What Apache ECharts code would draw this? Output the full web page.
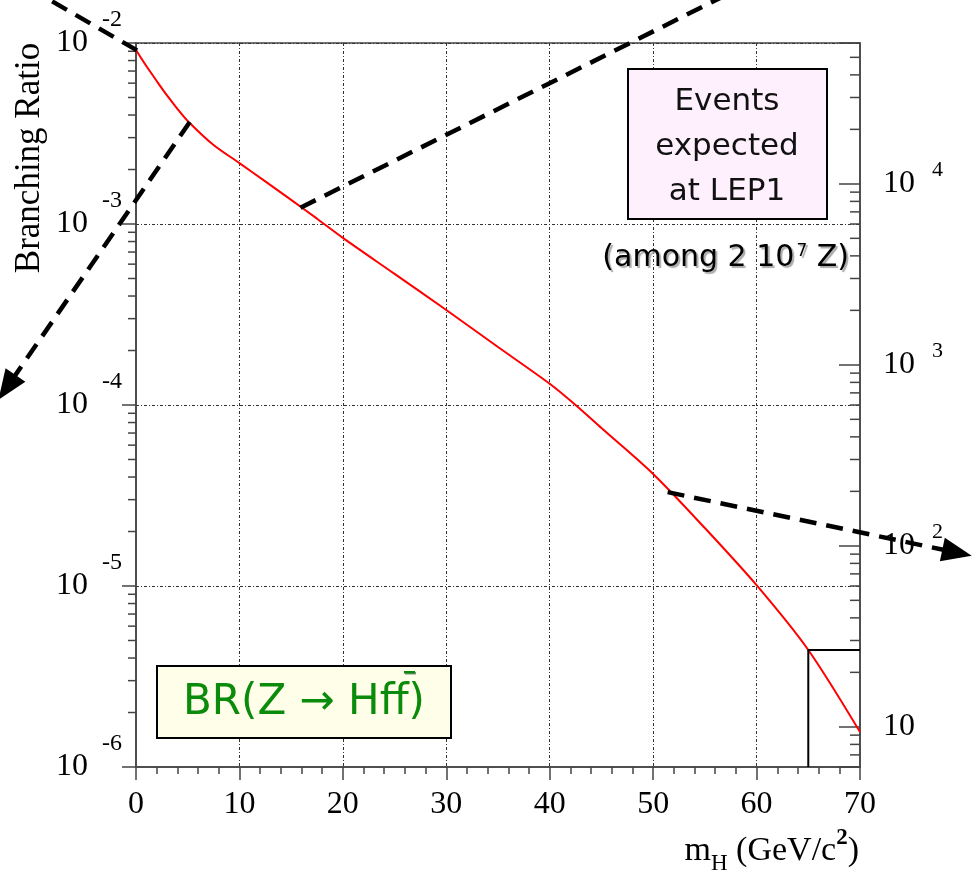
<!DOCTYPE html>
<html><head><meta charset="utf-8">
<script src="https://cdn.jsdelivr.net/npm/echarts@6/dist/echarts.min.js"></script>
<style>html,body{margin:0;padding:0;background:#fff}#c{width:972px;height:876px}</style>
</head><body><div id="c"></div>
<script>
// Higgs mass (GeV/c^2)
const massH = [0, 1, 2, 3, 4, 5, 7.5, 10, 12.5, 15, 17.5, 20, 25, 30, 35, 40, 42.5, 45, 50, 55, 60, 65, 70];
// BR(Z -> H f fbar)
const branchingRatio = [9.15e-3, 7.46e-3, 6.17e-3, 5.13e-3, 4.33e-3, 3.71e-3, 2.73e-3, 2.17e-3, 1.72e-3, 1.36e-3, 1.07e-3,
  8.38e-4, 5.30e-4, 3.35e-4, 2.09e-4, 1.31e-4, 1.00e-4, 7.46e-5, 4.16e-5, 2.09e-5, 1.01e-5, 4.43e-6, 1.56e-6];
// axis ranges
const brRange = [1e-6, 1e-2];
const eventsRange = [6, 60000];            // events expected, right axis
const massRange = [0, 70];
const massStep = 10;
// left-axis minor tick values (BR)
const brMinorTicks = [];
[1e-6, 1e-5, 1e-4, 1e-3].forEach(d => { [2, 3, 4, 5, 6, 7, 8, 9].forEach(k => brMinorTicks.push(k * d)); });
// right-axis minor tick values (events)
const eventMinorTicks = [7, 8, 9, 20, 30, 40, 50, 60, 70, 80, 90, 200, 300, 400, 500, 600, 700, 800, 900,
  2000, 3000, 4000, 5000, 6000, 7000, 8000, 9000, 20000, 30000, 40000, 50000];
// threshold box at m_H = 65
const thresholdMass = [65, 65, 70];
const thresholdBR = [1e-6, 4.43e-6, 4.43e-6];
// dashed arrows: [mH, BR] of start and end
const arrowFrom = [[0.1, 9.1e-3], [5.2, 3.66e-3], [15.9, 1.23e-3], [51.4, 3.30e-5]];
const arrowTo = [[-8.5, 1.75e-2], [-13.3, 1.07e-4], [58, 1.96e-2], [80.8, 1.47e-5]];
const arrowHead = [false, true, false, true];

const AX = '#444';
const chart = echarts.init(document.getElementById('c'), null, {renderer: 'canvas'});

function isPow10(v) { const l = Math.log10(v); return Math.abs(l - Math.round(l)) < 1e-6; }

const option = {
  animation: false,
  backgroundColor: '#fff',
  grid: {left: 136, right: 112, top: 43, bottom: 109, show: true, borderColor: AX, borderWidth: 1.5,
    backgroundColor: 'transparent', containLabel: false, outerBoundsMode: 'none'},
  xAxis: {
    type: 'value', min: massRange[0], max: massRange[1], interval: massStep,
    axisLine: {show: true, onZero: false, lineStyle: {color: AX, width: 1.5}},
    axisTick: {show: true, length: 13, lineStyle: {color: AX, width: 1.5}},
    minorTick: {show: true, splitNumber: 5, length: 7, lineStyle: {color: AX, width: 1.5}},
    axisLabel: {margin: 22, color: '#000', fontFamily: 'Liberation Serif', fontSize: 32},
    splitLine: {show: true, showMinLine: false, showMaxLine: false, lineStyle: {color: '#333', width: 1, type: [3, 2, 1, 2]}}
  },
  yAxis: [
    {
      type: 'log', logBase: 10, min: brRange[0], max: brRange[1], position: 'left',
      axisLine: {show: true, onZero: false, lineStyle: {color: AX, width: 1.5}},
      axisTick: {show: true, inside: false, length: 14, lineStyle: {color: AX, width: 1.5}},
      minorTick: {show: false},
      axisLabel: {
        margin: 14,
        formatter: function (v) { if (!isPow10(v)) return ''; return '{b|10}{s|' + Math.round(Math.log10(v)) + '}'; },
        rich: {
          b: {fontFamily: 'Liberation Serif', fontSize: 32, lineHeight: 32, color: '#000'},
          s: {fontFamily: 'Liberation Serif', fontSize: 24, lineHeight: 24, color: '#000', padding: [0, 0, 46, 14]}
        }
      },
      splitLine: {show: true, showMinLine: false, showMaxLine: false, lineStyle: {color: '#333', width: 1, type: [3, 2, 1, 2]}}
    },
    {
      type: 'log', logBase: 10, min: eventsRange[0], max: eventsRange[1], position: 'right',
      axisLine: {show: true, onZero: false, lineStyle: {color: AX, width: 1.5}},
      axisTick: {show: true, inside: true, length: 21, lineStyle: {color: AX, width: 1.5}},
      minorTick: {show: false},
      axisLabel: {
        margin: 23,
        formatter: function (v) { if (!isPow10(v)) return ''; const e = Math.round(Math.log10(v)); return e === 1 ? '{b|10}' : '{b|10}{s|' + e + '}'; },
        rich: {
          b: {fontFamily: 'Liberation Serif', fontSize: 32, lineHeight: 32, color: '#000'},
          s: {fontFamily: 'Liberation Serif', fontSize: 22, lineHeight: 22, color: '#000', padding: [0, 0, 28, 17]}
        }
      },
      splitLine: {show: false}
    }
  ],
  series: [
    {
      type: 'line', xAxisIndex: 0, yAxisIndex: 0, smooth: 0.3, symbol: 'none', showSymbol: false,
      data: massH.map((m, i) => [m, branchingRatio[i]]),
      lineStyle: {color: '#ff0000', width: 2}, z: 3
    },
    {
      type: 'line', xAxisIndex: 0, yAxisIndex: 0, symbol: 'none', showSymbol: false,
      data: thresholdMass.map((m, i) => [m, thresholdBR[i]]),
      lineStyle: {color: '#000', width: 2}, z: 4
    }
  ]
};
chart.setOption(option);

const g = [];
// minor ticks placed through the axes' own scales
const xLeft = chart.convertToPixel({xAxisIndex: 0}, massRange[0]);
const xRight = chart.convertToPixel({xAxisIndex: 0}, massRange[1]);
brMinorTicks.forEach(v => {
  const y = chart.convertToPixel({yAxisIndex: 0}, v);
  g.push({type: 'line', z: 50, shape: {x1: xLeft - 8, y1: y, x2: xLeft, y2: y}, style: {stroke: AX, lineWidth: 1.5}});
});
eventMinorTicks.forEach(v => {
  const y = chart.convertToPixel({yAxisIndex: 1}, v);
  g.push({type: 'line', z: 50, shape: {x1: xRight - 10, y1: y, x2: xRight, y2: y}, style: {stroke: AX, lineWidth: 1.5}});
});

function toPx(c) { return chart.convertToPixel({seriesIndex: 0}, c); }
arrowFrom.forEach((f, i) => {
  const p1 = toPx(f), p2 = toPx(arrowTo[i]);
  let end = p2;
  if (arrowHead[i]) {
    const dx = p2[0] - p1[0], dy = p2[1] - p1[1], L = Math.hypot(dx, dy), ux = dx / L, uy = dy / L;
    const hl = 30, hw = 12;
    const bx = p2[0] - ux * hl, by = p2[1] - uy * hl;
    end = [bx + ux * 2, by + uy * 2];
    g.push({type: 'polygon', z: 100, shape: {points: [[p2[0], p2[1]], [bx - uy * hw, by + ux * hw], [bx + uy * hw, by - ux * hw]]}, style: {fill: '#000'}});
  }
  g.push({type: 'line', z: 100, shape: {x1: p1[0], y1: p1[1], x2: end[0], y2: end[1]},
    style: {stroke: '#000', lineWidth: 4.5, lineDash: [17, 10]}});
});

// Events box
g.push({type: 'rect', z: 90, shape: {x: 628, y: 69, width: 199, height: 150}, style: {fill: '#fff0fd', stroke: '#000', lineWidth: 2}});
g.push({type: 'text', z: 91, x: 727, y: 147, style: {text: 'Events\nexpected\nat LEP1', fontFamily: 'DejaVu Sans', fontSize: 31, lineHeight: 45,
  fill: '#111', align: 'center', verticalAlign: 'middle', textAlign: 'center', textVerticalAlign: 'middle'}});
// among text
g.push({type: 'text', z: 91, x: 849, y: 258, style: {
  text: '{a|(among 2 10}{s|7}{a| Z)}', align: 'right', verticalAlign: 'middle', textAlign: 'right', textVerticalAlign: 'middle',
  rich: {
    a: {fontFamily: 'DejaVu Sans', fontSize: 30, fill: '#000', color: '#000', textShadowColor: '#aaa', textShadowOffsetX: 2, textShadowOffsetY: 2, textShadowBlur: 1},
    s: {fontFamily: 'DejaVu Sans', fontSize: 17, lineHeight: 17, fill: '#000', color: '#000', padding: [0, 0, 12, 2], textShadowColor: '#aaa', textShadowOffsetX: 2, textShadowOffsetY: 2, textShadowBlur: 1}
  }}});
// BR box
g.push({type: 'rect', z: 90, shape: {x: 157, y: 666, width: 294, height: 72}, style: {fill: '#ffffe9', stroke: '#000', lineWidth: 2}});
g.push({type: 'text', z: 91, x: 304, y: 703, style: {text: 'BR(Z \u2192 Hff)', fontFamily: 'DejaVu Sans', fontSize: 42,
  fill: '#0b8b0b', textShadowColor: '#1a1a1a', textShadowOffsetX: 1.5, textShadowOffsetY: 1.5, textShadowBlur: 0,
  align: 'center', verticalAlign: 'middle', textAlign: 'center', textVerticalAlign: 'middle'}});
g.push({type: 'rect', z: 92, shape: {x: 404, y: 671, width: 11, height: 2.5}, style: {fill: '#0b8b0b', shadowColor: '#888', shadowOffsetX: 1, shadowOffsetY: 1}});
// axis titles
g.push({type: 'text', z: 91, x: 30, y: 158, rotation: Math.PI / 2, style: {text: 'Branching Ratio', fontFamily: 'Liberation Serif', fontSize: 35,
  fill: '#000', align: 'center', verticalAlign: 'middle', textAlign: 'center', textVerticalAlign: 'middle'}});
g.push({type: 'text', z: 91, x: 859, y: 851, style: {
  text: '{a|m}{h|H}{a| (GeV/c}{t|2}{a|)}', align: 'right', verticalAlign: 'middle', textAlign: 'right', textVerticalAlign: 'middle',
  rich: {
    a: {fontFamily: 'Liberation Serif', fontSize: 34, lineHeight: 34, fill: '#000', color: '#000'},
    h: {fontFamily: 'Liberation Serif', fontSize: 23, lineHeight: 23, fill: '#000', color: '#000', padding: [26, 0, 0, 0]},
    t: {fontFamily: 'Liberation Serif', fontSize: 23, lineHeight: 23, fontWeight: 'bold', fill: '#000', color: '#000', padding: [0, 0, 26, 0]}
  }}});

chart.setOption({graphic: g});
</script>
</body></html>
